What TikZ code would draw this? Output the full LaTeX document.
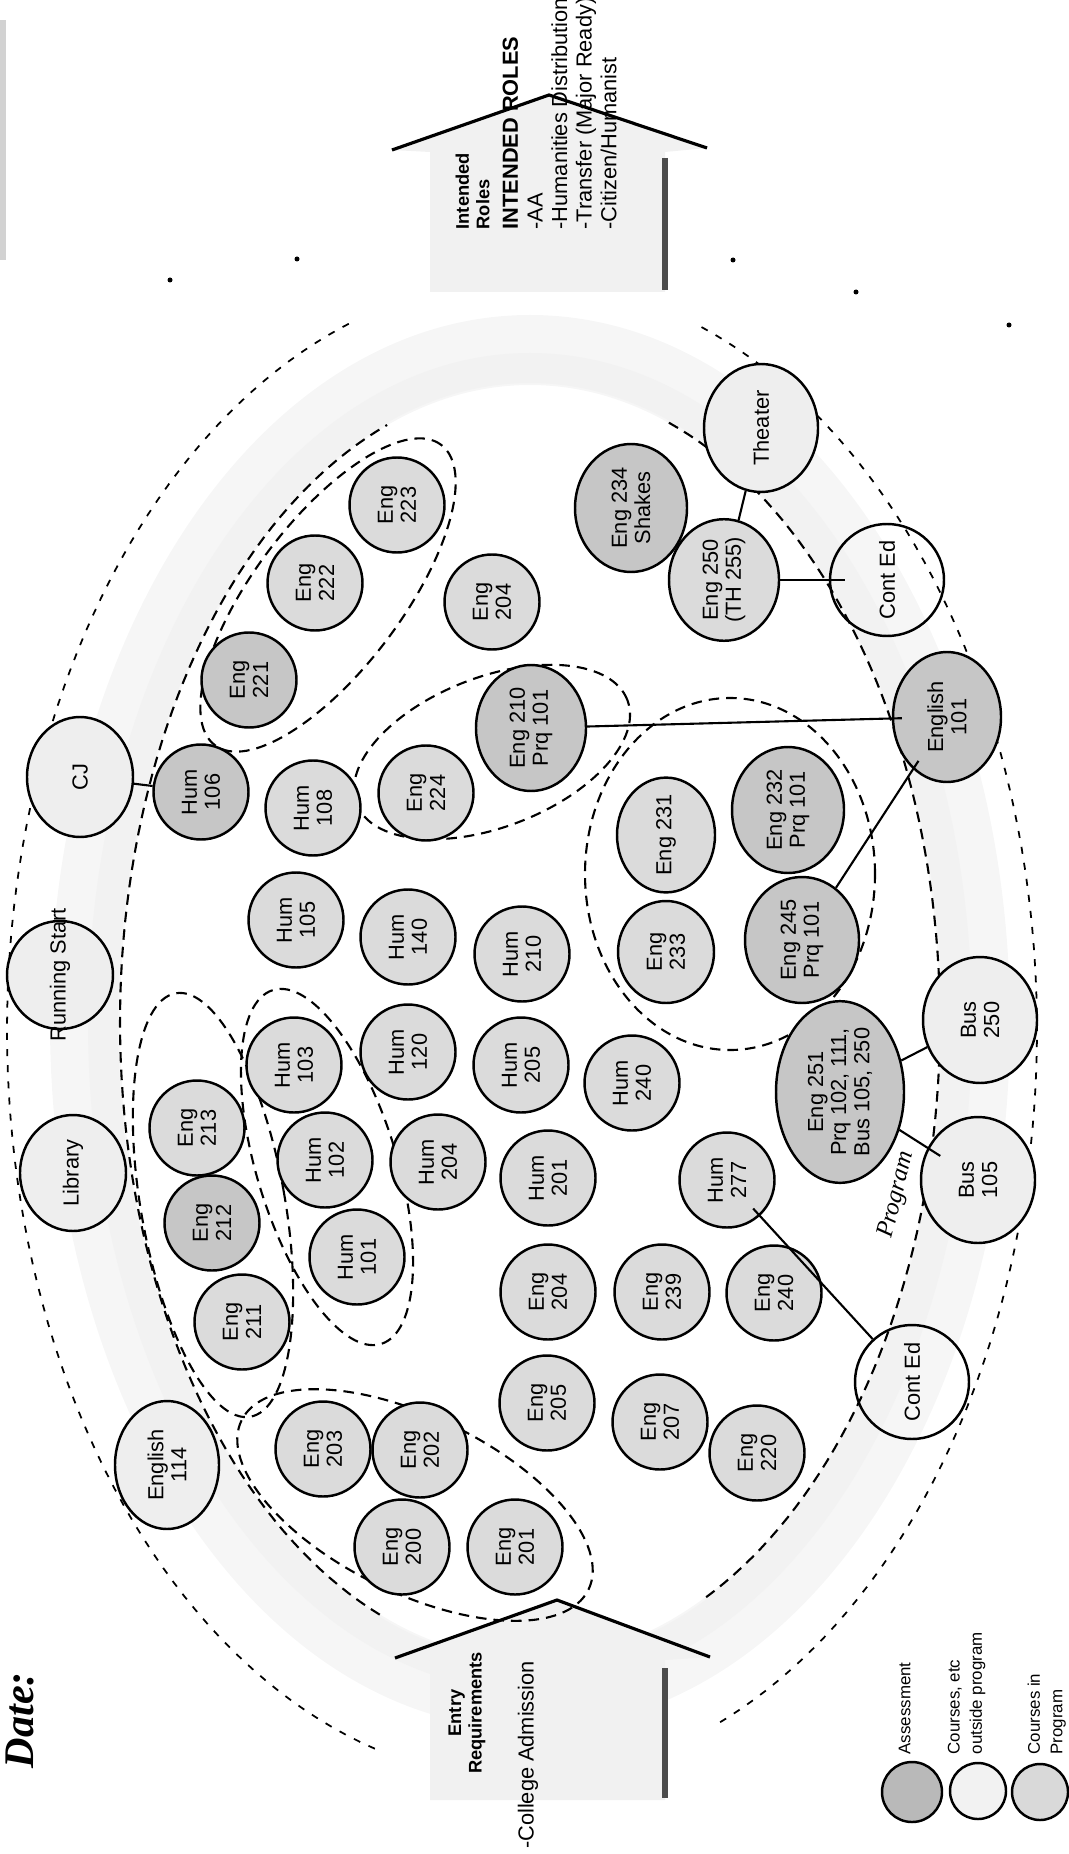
\documentclass[tikz,border=0pt]{standalone}
\usepackage{fontspec}
\setmainfont{Liberation Sans}
\newfontfamily\datefont{Liberation Serif}
\usetikzlibrary{shapes.geometric}
\tikzset{
	course/.style={ellipse,draw,line width=0.7pt,fill=gray!28,rotate=90,inner sep=0pt,
		minimum width=0.95cm,minimum height=0.95cm,align=center,font=\fontsize{6.2}{6.6}\selectfont},
	assess/.style={course,fill=gray!45},
	outside/.style={course,fill=gray!13},
	contbox/.style={course,fill=none},
	blob/.style={line width=0.6pt,dash pattern=on 3pt off 2pt},
	rim/.style={line width=0.5pt,dash pattern=on 2pt off 2.6pt},
	link/.style={line width=0.6pt},
	note/.style={rotate=90,inner sep=0pt,align=left,anchor=north west}
}
\begin{document}
\begin{tikzpicture}[x=1cm,y=-1cm]
	\useasboundingbox (0,0) rectangle (10.68,18.54);
	\fill[gray!35] (0,0.2) rectangle (0.06,2.6);
	\draw[gray!7,line width=0.7cm] (5.30,10.22) ellipse [x radius=4.45cm,y radius=6.72cm];
	\draw[gray!10,line width=0.3cm] (5.30,10.22) ellipse [x radius=4.27cm,y radius=6.54cm];
	\fill[gray!11] (3.95,16.58)--(5.57,16.00)--(7.10,16.57)--(6.65,16.60)--(6.65,18.00)--(4.30,18.00)--(4.30,16.60)--cycle;
	\draw[line width=0.9pt] (3.95,16.58)--(5.57,16.00)--(7.10,16.57);
	\draw[line width=1.6pt,gray!60!black] (6.65,16.68)--(6.65,17.98);
	\fill[gray!11] (3.92,1.50)--(5.49,0.95)--(7.07,1.48)--(6.65,1.52)--(6.65,2.92)--(4.30,2.92)--(4.30,1.52)--cycle;
	\draw[line width=0.9pt] (3.92,1.50)--(5.49,0.95)--(7.07,1.48);
	\draw[line width=1.6pt,gray!60!black] (6.65,1.58)--(6.65,2.90);
	\draw[rim] plot[domain=106.6:251.1,samples=90] ({5.22+5.15*cos(\x)},{10.30+7.50*sin(\x)});
	\draw[rim] plot[domain=-69.6:67.9,samples=90] ({5.22+5.15*cos(\x)},{10.30+7.50*sin(\x)});
	\draw[blob] plot[domain=111.5:249.6,samples=90] ({5.30+4.10*cos(\x)},{10.22+6.37*sin(\x)});
	\draw[blob] plot[domain=-70.2:64.8,samples=90] ({5.30+4.10*cos(\x)},{10.22+6.37*sin(\x)});
	\draw[blob,rotate around={-26:(4.15,15.05)}] (4.15,15.05) ellipse [x radius=1.93cm,y radius=0.88cm];
	\draw[blob,rotate around={10:(2.13,12.05)}] (2.13,12.05) ellipse [x radius=0.72cm,y radius=2.15cm];
	\draw[blob,rotate around={17:(3.27,11.67)}] (3.27,11.67) ellipse [x radius=0.70cm,y radius=1.85cm];
	\draw[blob,rotate around={53:(3.28,5.95)}] (3.28,5.95) ellipse [x radius=1.88cm,y radius=0.74cm];
	\draw[blob,rotate around={21:(4.92,7.52)}] (4.92,7.52) ellipse [x radius=1.45cm,y radius=0.75cm];
	\draw[blob] (7.30,8.74) ellipse [x radius=1.45cm,y radius=1.76cm];

	\node[course] (eng213) at (1.97,11.28) {Eng\\213};
	\node[assess] (eng212) at (2.12,12.23) {Eng\\212};
	\node[course] (eng211) at (2.42,13.22) {Eng\\211};
	\node[course] (hum103) at (2.94,10.65) {Hum\\103};
	\node[course] (hum102) at (3.25,11.60) {Hum\\102};
	\node[course] (hum101) at (3.57,12.57) {Hum\\101};
	\node[course] (hum204) at (4.38,11.62) {Hum\\204};
	\node[course] (hum201) at (5.48,11.78) {Hum\\201};
	\node[course] (eng204b) at (5.48,12.92) {Eng\\204};
	\node[course] (eng205) at (5.47,14.03) {Eng\\205};
	\node[outside,minimum width=1.28cm,minimum height=1.04cm] (eng114) at (1.67,14.65) {English\\114};
	\node[course] (eng203) at (3.23,14.49) {Eng\\203};
	\node[course] (eng202) at (4.20,14.50) {Eng\\202};
	\node[course] (eng200) at (4.02,15.47) {Eng\\200};
	\node[course] (eng201) at (5.15,15.47) {Eng\\201};
	\node[course] (eng239) at (6.62,12.92) {Eng\\239};
	\node[course] (eng240) at (7.74,12.93) {Eng\\240};
	\node[course] (eng207) at (6.60,14.22) {Eng\\207};
	\node[course] (eng220) at (7.57,14.53) {Eng\\220};
	\node[course] (hum277) at (7.27,11.80) {Hum\\277};
	\node[course] (hum240) at (6.32,10.83) {Hum\\240};
	\node[course] (hum205) at (5.21,10.65) {Hum\\205};
	\node[course] (hum210) at (5.22,9.54) {Hum\\210};
	\node[course] (hum120) at (4.08,10.52) {Hum\\120};
	\node[course] (hum140) at (4.08,9.37) {Hum\\140};
	\node[course] (hum105) at (2.96,9.20) {Hum\\105};
	\node[course] (hum108) at (3.13,8.08) {Hum\\108};
	\node[assess] (hum106) at (2.01,7.92) {Hum\\106};
	\node[course] (eng224) at (4.26,7.93) {Eng\\224};
	\node[assess,minimum width=1.26cm,minimum height=1.10cm] (eng210) at (5.31,7.28) {Eng 210\\Prq 101};
	\node[assess] (eng221) at (2.49,6.80) {Eng\\221};
	\node[course] (eng222) at (3.15,5.83) {Eng\\222};
	\node[course] (eng223) at (3.97,5.05) {Eng\\223};
	\node[course] (eng204a) at (4.92,6.02) {Eng\\204};
	\node[assess,minimum width=1.28cm,minimum height=1.12cm] (eng234) at (6.31,5.08) {Eng 234\\Shakes};
	\node[outside,minimum width=1.28cm,minimum height=1.14cm] (theater) at (7.61,4.28) {Theater};
	\node[course,minimum width=1.12cm,minimum height=1.10cm] (eng250) at (7.24,5.80) {Eng 250\\(TH 255)};
	\node[contbox,minimum width=1.12cm,minimum height=1.14cm] (conted1) at (8.87,5.80) {Cont Ed};
	\node[assess,minimum width=1.30cm,minimum height=1.08cm] (eng101) at (9.47,7.17) {English\\101};
	\node[course,minimum width=1.10cm,minimum height=0.98cm] (eng231) at (6.66,8.35) {Eng 231};
	\node[assess,minimum width=1.26cm,minimum height=1.12cm] (eng232) at (7.88,8.10) {Eng 232\\Prq 101};
	\node[course,minimum width=1.02cm,minimum height=0.96cm] (eng233) at (6.66,9.52) {Eng\\233};
	\node[assess,minimum width=1.26cm,minimum height=1.14cm] (eng245) at (8.02,9.40) {Eng 245\\Prq 101};
	\node[assess,minimum width=1.74cm,minimum height=1.28cm] (eng251) at (8.40,10.92) {Eng 251\\Prq 102, 111,\\Bus 105, 250};
	\node[outside,minimum width=1.26cm,minimum height=1.14cm] (bus250) at (9.80,10.20) {Bus\\250};
	\node[outside,minimum width=1.26cm,minimum height=1.14cm] (bus105) at (9.78,11.80) {Bus\\105};
	\node[contbox,minimum width=1.14cm,minimum height=1.14cm] (conted2) at (9.12,13.82) {Cont Ed};
	\node[outside,minimum width=1.20cm,minimum height=1.06cm] (cj) at (0.80,7.77) {CJ};
	\node[outside,minimum width=1.08cm,minimum height=1.06cm] (runstart) at (0.60,9.75) {\makebox[0pt]{Running Start}};
	\node[outside,minimum width=1.16cm,minimum height=1.06cm] (library) at (0.73,11.73) {Library};

	\draw[link] (cj)--(hum106);
	\draw[link,shorten >=-0.1cm] (eng210)--(eng101);
	\draw[link,shorten <=-0.1cm] (eng101)--(eng245);
	\draw[link] (theater)--(eng250);
	\draw[link,shorten >=-0.16cm] (eng250)--(conted1);
	\draw[link] (eng251)--(bus250);
	\draw[link,shorten >=-0.15cm] (eng251)--(bus105);
	\draw[link,shorten <=-0.1cm] (hum277)--(conted2);

	\node[rotate=76,inner sep=0pt,font=\datefont\itshape\fontsize{7}{8}\selectfont] (prog) at (8.97,11.95) {Program};
	\node[rotate=90,font=\datefont\bfseries\itshape\fontsize{12}{14}\selectfont] (date) at (0.20,17.20) {Date:};
	\node[rotate=90,align=center,font=\bfseries\fontsize{5.2}{5.8}\selectfont] (entry) at (4.67,17.13) {Entry\\Requirements};
	\node[rotate=90,font=\fontsize{6.2}{7}\selectfont] (admit) at (5.28,17.55) {-College Admission};
	\node[note,font=\bfseries\fontsize{5.2}{5.8}\selectfont] (roles) at (4.55,2.30) {Intended\\Roles};
	\node[note,font=\fontsize{6.2}{7}\selectfont] (rolelist) at (5.02,2.30)
		{\textbf{INTENDED ROLES}\\-AA\\-Humanities Distribution\\-Transfer (Major Ready)\\-Citizen/Humanist};

	\node[circle,draw,line width=0.7pt,fill=gray!55,minimum size=0.60cm] (leg1) at (9.12,17.92) {};
	\node[circle,draw,line width=0.7pt,fill=gray!10,minimum size=0.56cm] (leg2) at (9.78,17.91) {};
	\node[circle,draw,line width=0.7pt,fill=gray!30,minimum size=0.56cm] (leg3) at (10.40,17.92) {};
	\node[note,font=\fontsize{4.8}{6.4}\selectfont] (legt1) at (8.98,17.55) {Assessment};
	\node[note,font=\fontsize{4.8}{6.4}\selectfont] (legt2) at (9.47,17.55) {Courses, etc\\outside program};
	\node[note,font=\fontsize{4.8}{6.4}\selectfont] (legt3) at (10.27,17.55) {Courses in\\Program};

	\foreach \p in {(1.70,2.80),(2.97,2.59),(7.33,2.60),(8.56,2.92),(10.09,3.25)}
		\fill \p circle [radius=0.025cm];
\end{tikzpicture}
\end{document}
